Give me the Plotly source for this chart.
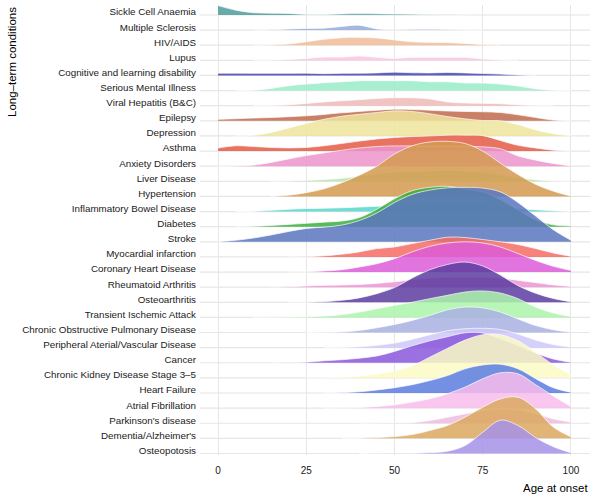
import plotly.graph_objects as go

ages = [0, 5, 10, 15, 20, 25, 30, 35, 40, 45, 50, 55, 60, 65, 70, 75, 80, 85, 90, 95, 100]

# conditions from top row to bottom row
conditions = ['Sickle Cell Anaemia', 'Multiple Sclerosis', 'HIV/AIDS', 'Lupus',
              'Cognitive and learning disability', 'Serious Mental Illness',
              'Viral Hepatitis (B&C)', 'Epilepsy', 'Depression', 'Asthma',
              'Anxiety Disorders', 'Liver Disease', 'Hypertension',
              'Inflammatory Bowel Disease', 'Diabetes', 'Stroke',
              'Myocardial infarction', 'Coronary Heart Disease', 'Rheumatoid Arthritis',
              'Osteoarthritis', 'Transient Ischemic Attack',
              'Chronic Obstructive Pulmonary Disease', 'Peripheral Aterial/Vascular Disease',
              'Cancer', 'Chronic Kidney Disease Stage 3\u20135', 'Heart Failure',
              'Atrial Fibrillation', "Parkinson's disease", 'Dementia/Alzheimer\'s',
              'Osteopotosis']

# ridge heights (in row units) at each age
sickle = [0.62, 0.32, 0.15, 0.12, 0.1, 0.04, 0.03, 0.07, 0.09, 0.08, 0.06, 0.05, 0.03, 0.01, 0, 0, 0, 0, 0, 0, 0]
ms = [0, 0, 0, 0.02, 0.07, 0.11, 0.13, 0.24, 0.32, 0.08, 0.03, 0.05, 0.06, 0.04, 0.01, 0, 0, 0, 0, 0, 0]
hiv = [0, 0, 0, 0.02, 0.08, 0.23, 0.39, 0.5, 0.52, 0.48, 0.35, 0.23, 0.19, 0.18, 0.12, 0.04, 0, 0, 0, 0, 0]
lupus = [0, 0, 0, 0.01, 0.06, 0.13, 0.22, 0.22, 0.29, 0.2, 0.13, 0.2, 0.2, 0.2, 0.2, 0.09, 0.02, 0, 0, 0, 0]
cognitive = [0.15, 0.15, 0.14, 0.14, 0.14, 0.15, 0.12, 0.14, 0.15, 0.17, 0.22, 0.18, 0.17, 0.2, 0.17, 0.13, 0.09, 0.03, 0, 0, 0]
smi = [0, 0, 0.02, 0.14, 0.32, 0.43, 0.52, 0.58, 0.65, 0.65, 0.65, 0.65, 0.58, 0.58, 0.5, 0.5, 0.43, 0.3, 0.12, 0.02, 0]
viral = [0, 0, 0, 0.01, 0.06, 0.15, 0.25, 0.33, 0.4, 0.48, 0.53, 0.52, 0.45, 0.25, 0.18, 0.16, 0.13, 0.06, 0.01, 0, 0]
epilepsy = [0.1, 0.14, 0.18, 0.22, 0.27, 0.33, 0.42, 0.53, 0.62, 0.7, 0.77, 0.75, 0.7, 0.65, 0.62, 0.6, 0.55, 0.4, 0.22, 0.05, 0]
depression = [0, 0, 0.04, 0.23, 0.52, 0.83, 1.1, 1.3, 1.43, 1.55, 1.66, 1.62, 1.47, 1.28, 1.13, 1.02, 1.0, 0.75, 0.4, 0.15, 0.02]
asthma = [0.2, 0.35, 0.3, 0.24, 0.21, 0.24, 0.35, 0.5, 0.66, 0.8, 0.9, 0.96, 1.0, 1.05, 1.05, 1.02, 0.7, 0.38, 0.2, 0.06, 0]
anxiety = [0, 0.01, 0.07, 0.25, 0.48, 0.7, 0.88, 1.05, 1.2, 1.3, 1.34, 1.34, 1.33, 1.33, 1.32, 1.28, 1.15, 0.68, 0.4, 0.18, 0.02]
liver = [0, 0, 0, 0, 0.02, 0.06, 0.12, 0.2, 0.35, 0.5, 0.6, 0.65, 0.68, 0.72, 0.68, 0.6, 0.45, 0.25, 0.1, 0.02, 0]
hypertension = [0, 0, 0, 0, 0.08, 0.25, 0.5, 0.9, 1.4, 2.0, 2.8, 3.35, 3.6, 3.64, 3.5, 3.0, 2.2, 1.45, 0.8, 0.35, 0.03]
ibd = [0, 0, 0.01, 0.08, 0.15, 0.2, 0.22, 0.25, 0.3, 0.35, 0.4, 0.45, 0.45, 0.45, 0.45, 0.4, 0.3, 0.2, 0.12, 0.05, 0]
diabetes = [0, 0, 0.02, 0.08, 0.15, 0.22, 0.3, 0.37, 0.6, 1.15, 1.85, 2.38, 2.6, 2.67, 2.5, 2.3, 1.8, 1.1, 0.45, 0.12, 0.04]
stroke = [0.01, 0.1, 0.25, 0.45, 0.68, 0.88, 0.97, 1.1, 1.4, 1.9, 2.6, 3.13, 3.42, 3.57, 3.6, 3.55, 3.3, 2.6, 1.7, 0.8, 0.1]
mi = [0, 0, 0, 0, 0, 0.01, 0.07, 0.18, 0.33, 0.55, 0.66, 0.88, 1.1, 1.3, 1.28, 1.15, 1.0, 0.82, 0.55, 0.26, 0.04]
chd = [0, 0, 0, 0, 0, 0.01, 0.07, 0.15, 0.33, 0.55, 0.88, 1.33, 1.7, 1.92, 2.0, 1.92, 1.66, 1.22, 0.77, 0.38, 0.11]
ra = [0, 0, 0, 0, 0.02, 0.08, 0.12, 0.14, 0.18, 0.25, 0.35, 0.5, 0.6, 0.65, 0.65, 0.65, 0.6, 0.45, 0.3, 0.15, 0.05]
oa = [0, 0, 0, 0, 0, 0.01, 0.04, 0.13, 0.29, 0.57, 0.97, 1.6, 2.15, 2.5, 2.66, 2.4, 1.8, 1.1, 0.6, 0.25, 0.03]
tia = [0, 0, 0, 0.01, 0.02, 0.04, 0.09, 0.18, 0.35, 0.57, 0.8, 1.0, 1.24, 1.46, 1.68, 1.75, 1.61, 1.24, 0.68, 0.29, 0.07]
copd = [0, 0, 0, 0, 0, 0, 0.01, 0.04, 0.13, 0.31, 0.53, 0.8, 1.13, 1.5, 1.68, 1.63, 1.35, 0.9, 0.46, 0.18, 0.02]
pavd = [0, 0, 0, 0, 0, 0, 0, 0.01, 0.06, 0.15, 0.3, 0.55, 0.85, 1.12, 1.25, 1.28, 1.2, 0.9, 0.5, 0.2, 0.04]
cancer = [0, 0, 0, 0, 0.01, 0.04, 0.13, 0.2, 0.3, 0.45, 0.75, 1.12, 1.45, 1.72, 1.98, 1.97, 1.6, 1.15, 0.65, 0.25, 0.03]
ckd = [0, 0, 0, 0, 0, 0, 0.01, 0.04, 0.12, 0.25, 0.45, 0.8, 1.37, 1.95, 2.5, 2.85, 2.85, 2.45, 1.7, 0.85, 0.2]
hf = [0, 0, 0, 0, 0, 0, 0, 0.02, 0.08, 0.2, 0.35, 0.55, 0.82, 1.15, 1.6, 1.85, 1.9, 1.6, 0.95, 0.35, 0.05]
af = [0, 0, 0, 0, 0, 0, 0, 0.01, 0.04, 0.11, 0.22, 0.4, 0.62, 0.95, 1.39, 1.94, 2.34, 2.27, 1.55, 0.8, 0.1]
parkinsons = [0, 0, 0, 0, 0, 0, 0, 0, 0, 0.01, 0.02, 0.04, 0.18, 0.4, 0.62, 0.84, 0.95, 0.88, 0.62, 0.29, 0.07]
dementia = [0, 0, 0, 0, 0, 0, 0, 0, 0.01, 0.05, 0.12, 0.25, 0.52, 0.85, 1.4, 2.06, 2.61, 2.72, 1.95, 0.75, 0.1]
osteo = [0, 0, 0, 0, 0, 0, 0, 0, 0, 0.01, 0.02, 0.02, 0.06, 0.15, 0.52, 1.4, 2.2, 1.85, 1.05, 0.45, 0.05]

heights = [sickle, ms, hiv, lupus, cognitive, smi, viral, epilepsy, depression, asthma,
           anxiety, liver, hypertension, ibd, diabetes, stroke, mi, chd, ra, oa,
           tia, copd, pavd, cancer, ckd, hf, af, parkinsons, dementia, osteo]

colors = ['#4f9c9c', '#93acd8', '#f0bc98', '#fac4e2', '#4444b0', '#98ecc8',
          '#eeb8b8', '#c06a4c', '#efe49c', '#e45a44', '#ec94cc', '#b8e6a8',
          '#d49a50', '#58d6cc', '#3cae3c', '#5a76c0', '#f46c64', '#dc5cd8',
          '#ec94d4', '#5c3ca0', '#acf4ac', '#a8b0e0', '#ccc8f8', '#8a58dc',
          '#fafac4', '#5a7ce0', '#f8bcec', '#eebcde', '#dca860', '#a490e8']


def hex_to_rgba(h, a):
    h = h.lstrip('#')
    return 'rgba(%d,%d,%d,%s)' % (int(h[0:2], 16), int(h[2:4], 16), int(h[4:6], 16), a)


n = len(conditions)
fig = go.Figure()

# draw from the top row down so lower ridges sit on top
for i, name in enumerate(conditions):
    base = n - 1 - i
    h = heights[i]
    nz = [k for k, v in enumerate(h) if v > 0]
    lo = max(nz[0] - 1, 0) if h[0] == 0 else 0
    hi = min(nz[-1] + 1, len(h) - 1)
    xs = ages[lo:hi + 1]
    ys = [base + v for v in h[lo:hi + 1]]
    fig.add_trace(go.Scatter(x=xs, y=[base] * len(xs), mode='lines',
                             line=dict(width=0), hoverinfo='skip', showlegend=False))
    fig.add_trace(go.Scatter(x=xs, y=ys, mode='lines', fill='tonexty',
                             fillcolor=hex_to_rgba(colors[i], 0.85),
                             line=dict(color='rgba(255,255,255,0.85)', width=0.8,
                                       shape='spline', smoothing=1.0),
                             hoverinfo='skip', showlegend=False, name=name))

# horizontal guide line per row
for i in range(n):
    fig.add_shape(type='line', xref='paper', x0=0, x1=1, y0=i, y1=i,
                  line=dict(color='#e6e6e6', width=1.2), layer='below')

fig.update_layout(
    width=600, height=500,
    margin=dict(l=200, r=10, t=5, b=45),
    plot_bgcolor='white', paper_bgcolor='white',
    font=dict(family='Liberation Sans, Arial, sans-serif', size=10, color='#1a1a1a'),
    showlegend=False,
    xaxis=dict(range=[-5.1, 105.4], tickvals=[0, 25, 50, 75, 100],
               showgrid=True, gridcolor='#e6e6e6', gridwidth=1,
               zeroline=False, showline=False, ticks='', ticklabelstandoff=8,
               tickfont=dict(size=10, color='#1a1a1a')),
    yaxis=dict(range=[-0.1, 29.66], tickvals=[n - 1 - i + 0.2 for i in range(n)],
               ticktext=conditions, showgrid=False, zeroline=False, showline=False,
               ticks='', ticklabelstandoff=3, tickfont=dict(size=9.8, color='#1a1a1a')),
    annotations=[
        dict(text='Age at onset', xref='paper', yref='paper', x=1, y=-0.073,
             xanchor='right', yanchor='middle', showarrow=False,
             font=dict(size=11.5, color='black')),
        dict(text='Long\u2013term conditions', xref='paper', yref='paper',
             x=-0.482, y=1, xanchor='center', yanchor='top', textangle=-90,
             showarrow=False, font=dict(size=11.5, color='black')),
    ],
)

# the page body has a default 8px margin; drop it so the figure sits at the corner
fig.write_html("out.html", config={'displayModeBar': False},
               post_script="document.body.style.margin='0';")
